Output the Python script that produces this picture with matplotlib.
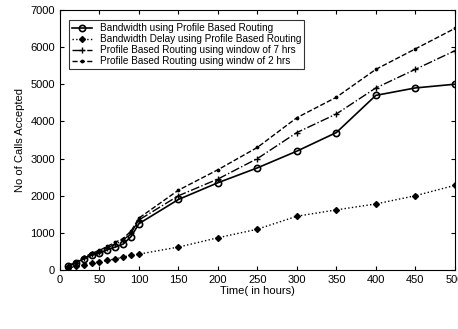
import numpy as np
import matplotlib.pyplot as plt

# time points (hours)
hours = [10, 20, 30, 40, 50, 60, 70, 80, 90, 100, 150, 200, 250, 300, 350, 400, 450, 500]

bw_profile = [100, 200, 300, 400, 450, 550, 620, 700, 900, 1250, 1900, 2350, 2750, 3200, 3700, 4700, 4900, 5000]
bwdelay_profile = [50, 100, 150, 200, 230, 260, 300, 350, 400, 430, 620, 870, 1100, 1450, 1620, 1780, 2000, 2280]
window_7 = [100, 200, 320, 420, 500, 600, 700, 800, 1000, 1350, 2000, 2450, 3000, 3700, 4200, 4900, 5400, 5900]
window_2 = [110, 220, 340, 450, 530, 640, 750, 850, 1050, 1400, 2150, 2700, 3300, 4100, 4650, 5400, 5950, 6500]

labels = ['Bandwidth using Profile Based Routing',
          'Bandwidth Delay using Profile Based Routing',
          'Profile Based Routing using window of 7 hrs',
          'Profile Based Routing using windw of 2 hrs']

plt.rcParams['font.family'] = ['Liberation Sans', 'DejaVu Sans']
fig = plt.figure(figsize=(4.58, 3.29), dpi=100)
ax = fig.add_axes([0.131, 0.179, 0.862, 0.791])

ax.plot(hours, bw_profile, 'k-o', lw=1.2, ms=4.5, mfc='none', mew=1.2, label=labels[0])
ax.plot(hours, bwdelay_profile, 'k:D', lw=1, ms=3, label=labels[1])
ax.plot(hours, window_7, 'k-.+', lw=1, ms=5, label=labels[2])
ax.plot(hours, window_2, 'k--', marker='.', lw=1, ms=3.5, label=labels[3])

ax.set_xlim(0, 500)
ax.set_ylim(0, 7000)
ax.set_xticks(np.arange(0, 501, 50))
ax.set_yticks(np.arange(0, 7001, 1000))
ax.tick_params(direction='in', top=True, right=True, labelsize=8, length=3)
ax.set_xlabel('Time( in hours)', fontsize=8, labelpad=1)
ax.set_ylabel('No of Calls Accepted', fontsize=8)
leg = ax.legend(loc='upper left', fontsize=7.2, frameon=True, fancybox=False,
                edgecolor='black', borderpad=0.3, labelspacing=0.1, handlelength=2,
                bbox_to_anchor=(0.01, 0.98))
leg.get_frame().set_linewidth(0.8)

fig.savefig('out.png', dpi=100)
